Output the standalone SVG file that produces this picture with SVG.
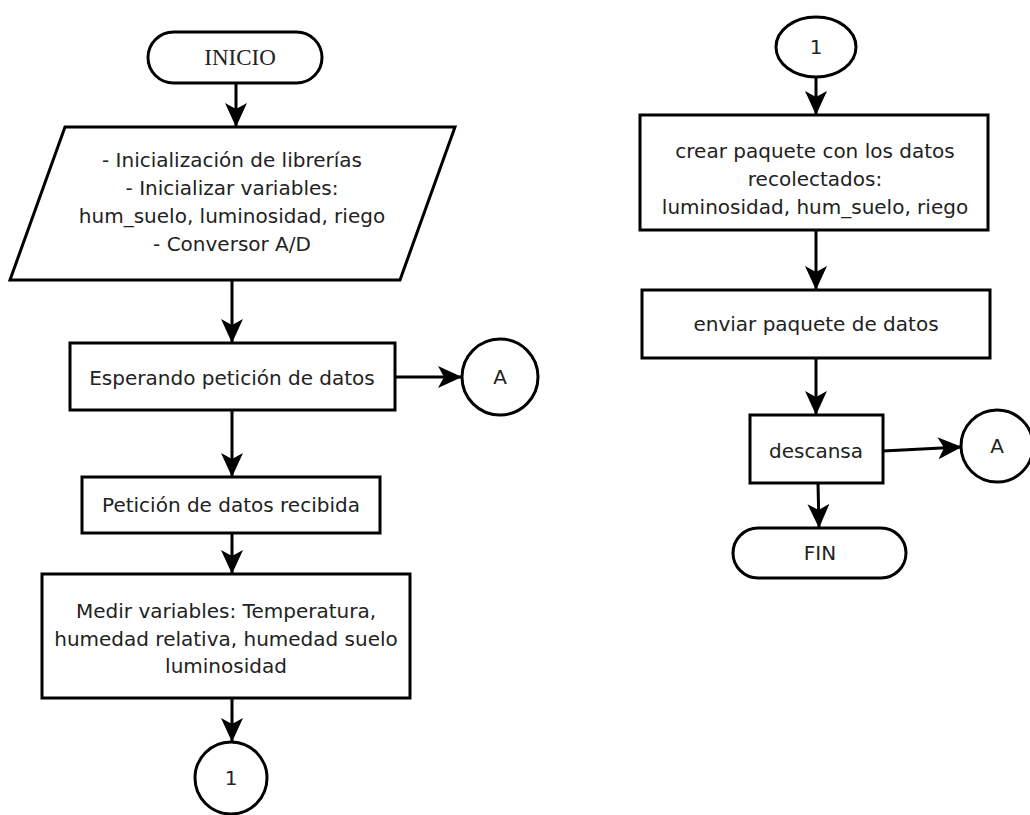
<svg xmlns="http://www.w3.org/2000/svg" width="1030" height="815" viewBox="0 0 1030 815">
<style>
.s{fill:#fff;stroke:#000;stroke-width:3}
.t{font-family:"DejaVu Sans",sans-serif;font-size:20px;fill:#222;text-anchor:middle}
.tr{font-family:"Liberation Serif",serif;font-size:23px;fill:#222;text-anchor:middle}
.c{fill:none;stroke:#000;stroke-width:3}
</style>
<defs>
<marker id="ah" markerWidth="26" markerHeight="24" refX="23" refY="11" orient="auto" markerUnits="userSpaceOnUse">
<path d="M0,0 L24,11 L0,22 L6,11 Z" fill="#000"/>
</marker>
</defs>
<rect width="1030" height="815" fill="#fff"/>
<g id="connectors">
<line class="c" x1="236" y1="83" x2="236" y2="126" marker-end="url(#ah)"/>
<line class="c" x1="232" y1="280" x2="232" y2="342" marker-end="url(#ah)"/>
<line class="c" x1="395" y1="377" x2="461" y2="377" marker-end="url(#ah)"/>
<line class="c" x1="232" y1="410" x2="232" y2="476" marker-end="url(#ah)"/>
<line class="c" x1="232" y1="533" x2="232" y2="573" marker-end="url(#ah)"/>
<line class="c" x1="232" y1="698" x2="232" y2="741" marker-end="url(#ah)"/>
<line class="c" x1="816" y1="77" x2="816" y2="114" marker-end="url(#ah)"/>
<line class="c" x1="816" y1="230" x2="816" y2="289" marker-end="url(#ah)"/>
<line class="c" x1="816" y1="358" x2="816" y2="414" marker-end="url(#ah)"/>
<line class="c" x1="883" y1="451" x2="961" y2="447" marker-end="url(#ah)"/>
<line class="c" x1="818" y1="483" x2="819" y2="527" marker-end="url(#ah)"/>
</g>
<g id="inicio">
<rect class="s" x="148" y="32" width="174" height="51" rx="25.5"/>
<text class="tr" x="240" y="65">INICIO</text>
</g>
<g id="init">
<polygon class="s" points="65,127 455,127 400,280 10,280"/>
<text class="t" x="232" y="167">- Inicialización de librerías</text>
<text class="t" x="232" y="195">- Inicializar variables:</text>
<text class="t" x="232" y="223">hum_suelo, luminosidad, riego</text>
<text class="t" x="232" y="251">- Conversor A/D</text>
</g>
<g id="esperando">
<rect class="s" x="70" y="343" width="325" height="67"/>
<text class="t" x="232" y="385">Esperando petición de datos</text>
</g>
<g id="connA1">
<circle class="s" cx="500" cy="377" r="38"/>
<text class="t" x="500" y="384">A</text>
</g>
<g id="recibida">
<rect class="s" x="82" y="477" width="298" height="56"/>
<text class="t" x="231" y="512">Petición de datos recibida</text>
</g>
<g id="medir">
<rect class="s" x="42" y="574" width="368" height="124"/>
<text class="t" x="226" y="618">Medir variables: Temperatura,</text>
<text class="t" x="226" y="646">humedad relativa, humedad suelo</text>
<text class="t" x="226" y="673">luminosidad</text>
</g>
<g id="conn1a">
<circle class="s" cx="231" cy="778" r="36"/>
<text class="t" x="231" y="785">1</text>
</g>
<g id="conn1b">
<ellipse class="s" cx="816" cy="47" rx="40" ry="30"/>
<text class="t" x="816" y="54">1</text>
</g>
<g id="crear">
<rect class="s" x="640" y="115" width="348" height="115"/>
<text class="t" x="815" y="158">crear paquete con los datos</text>
<text class="t" x="815" y="186">recolectados:</text>
<text class="t" x="815" y="214">luminosidad, hum_suelo, riego</text>
</g>
<g id="enviar">
<rect class="s" x="642" y="290" width="348" height="68"/>
<text class="t" x="816" y="331">enviar paquete de datos</text>
</g>
<g id="descansa">
<rect class="s" x="750" y="415" width="133" height="68"/>
<text class="t" x="816" y="458">descansa</text>
</g>
<g id="connA2">
<circle class="s" cx="997" cy="446" r="36"/>
<text class="t" x="997" y="453">A</text>
</g>
<g id="fin">
<rect class="s" x="733" y="528" width="173" height="50" rx="25"/>
<text class="t" x="820" y="560">FIN</text>
</g>
</svg>
